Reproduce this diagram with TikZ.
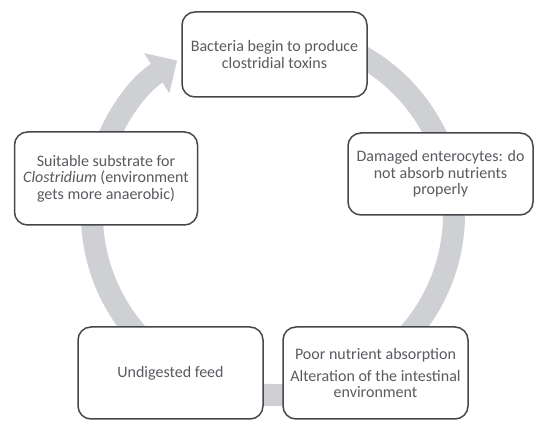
\documentclass[tikz,border=0pt]{standalone}
\usepackage{fontspec}
\setmainfont{Carlito}
\usetikzlibrary{arrows.meta,calc}
\definecolor{ringgray}{HTML}{CFD0D3}
\definecolor{boxline}{HTML}{44474C}
\definecolor{txt}{HTML}{595B60}
\tikzset{
  stagebox/.style={draw=boxline, line width=1.5pt, fill=white, rounded corners=13pt,
    inner sep=0pt, align=center, text=txt, font=\fontsize{16}{16.5}\selectfont},
  ring/.style={draw=ringgray, line width=22pt,
    -{Triangle[width=46pt,length=24pt]}}
}
\begin{document}
\begin{tikzpicture}[x=1pt,y=1pt]
\useasboundingbox (0,0) rectangle (550,439);
\coordinate (c) at (273,225);
\draw[ring] ($(c)+(80:181)$) arc[start angle=80,end angle=-238,radius=181];
\node[stagebox, minimum width=185pt, minimum height=85pt] (top) at (274.5,384.5)
  {Bacteria begin to produce\\clostridial toxins};
\node[stagebox, minimum width=185pt, minimum height=82pt] (right) at (440.5,265)
  {Damaged enterocytes: do\\not absorb nutrients\\properly};
\node[stagebox, minimum width=183pt, minimum height=93pt] (left) at (106,260.5)
  {Suitable substrate for\\\textit{Clostridium} (environment\\gets more anaerobic)};
\node[stagebox, minimum width=185pt, minimum height=92pt] (bl) at (170.5,66)
  {Undigested feed};
\node[stagebox, minimum width=185pt, minimum height=92pt] (br) at (375.5,66)
  {Poor nutrient absorption\\[5.5pt]Alteration of the intestinal\\environment};
\end{tikzpicture}
\end{document}
